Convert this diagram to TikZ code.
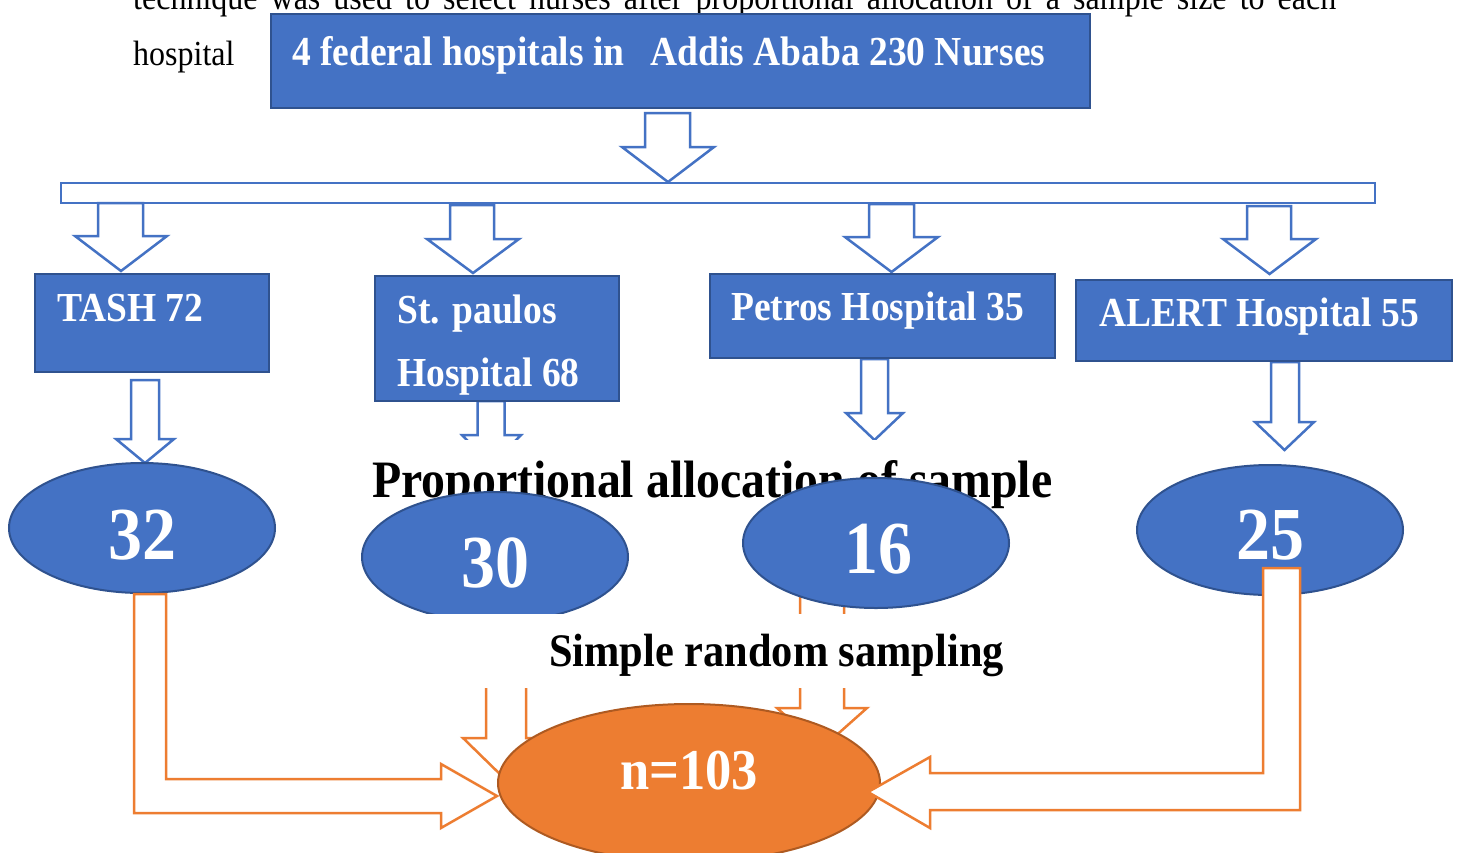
\documentclass[tikz,border=0pt]{standalone}
\usepackage{fontspec}
\setmainfont{Liberation Serif}
\usetikzlibrary{shapes.geometric}
\definecolor{bfill}{HTML}{4472C4}
\definecolor{bdark}{HTML}{2F528F}
\definecolor{ofill}{HTML}{ED7D31}
\definecolor{odark}{HTML}{AE5A21}
\newcommand\vstr[1]{\scalebox{1}[1.1]{#1}}
\newcommand\blkdown[8]{\draw[#1] (#2,#4) -- (#3,#4) -- (#3,#5) -- (#7,#5) -- ({(#6+#7)/2},#8) -- (#6,#5) -- (#2,#5) -- cycle;}
\tikzset{
  bluebox/.style={fill=bfill, draw=bdark, line width=2.5pt, inner sep=0pt, rectangle},
  blueell/.style={ellipse, fill=bfill, draw=bdark, line width=2pt, inner sep=0pt, minimum width=266pt, minimum height=130pt},
  blockblue/.style={fill=white, draw=bfill, line width=2.5pt, line join=miter},
  blockorange/.style={fill=white, draw=ofill, line width=2.5pt, line join=miter},
  boxtext/.style={text=white, font=\fontsize{37.5pt}{40pt}\selectfont\bfseries, anchor=base west, inner sep=0pt},
  numtext/.style={text=white, font=\fontsize{68pt}{70pt}\selectfont\bfseries, anchor=base, inner sep=0pt},
  bodytext/.style={text=black, font=\fontsize{32pt}{34pt}\selectfont, anchor=base west, inner sep=0pt},
  cover/.style={fill=white, draw=none, inner sep=0pt, rectangle}
}
\begin{document}
\begin{tikzpicture}[x=1pt,y=-1pt]
\useasboundingbox (0,0) rectangle (1459,852);
\fill[white] (0,0) rectangle (1459,852);

% running text of the page
\node[bodytext] (line1) at (133,9) {\vstr{\makebox[1203pt][s]{technique was used to select nurses after proportional allocation of a sample size to each}}};
\node[bodytext] (line2) at (133,65) {\vstr{hospital}};

% main box
\node[bluebox, minimum width=819pt, minimum height=94pt] (main) at (680.5,61) {};
\node[boxtext] (maintext) at (292,65) {\vstr{4 federal hospitals in\hspace{26pt}Addis Ababa 230 Nurses}};

% main arrow and bar
\blkdown{blockblue}{645}{690}{113}{147}{622}{714}{182}
\node[draw=bfill, fill=white, line width=2.5pt, rectangle, inner sep=0pt, minimum width=1314pt, minimum height=20pt] (bar) at (718,193) {};

% arrows from bar
\blkdown{blockblue}{98}{143}{203}{236}{75}{167}{271}
\blkdown{blockblue}{450}{494}{205}{239}{427}{519}{273}
\blkdown{blockblue}{869}{914}{204}{237}{845}{938}{272}
\blkdown{blockblue}{1247}{1291}{206}{239}{1223}{1316}{274}

% arrows from hospital boxes
\blkdown{blockblue}{131}{159}{380}{439}{116}{174}{463}
\blkdown{blockblue}{477.5}{504.5}{401}{435}{462}{521}{465}
\blkdown{blockblue}{861}{888}{359}{413}{846}{903}{440}
\blkdown{blockblue}{1271}{1299}{362}{422}{1255}{1314}{450}

% hospital boxes
\node[bluebox, minimum width=234pt, minimum height=98pt] (tash) at (152,323) {};
\node[boxtext] (tashtext) at (57,321) {\vstr{TASH 72}};
\node[bluebox, minimum width=244pt, minimum height=125pt] (paulos) at (497,338.5) {};
\node[boxtext] (paulostext1) at (397,323) {\vstr{St. paulos}};
\node[boxtext] (paulostext2) at (397,386) {\vstr{Hospital 68}};
\node[bluebox, minimum width=345pt, minimum height=84pt] (petros) at (882.5,316) {};
\node[boxtext] (petrostext) at (731,320) {\vstr{Petros Hospital 35}};
\node[bluebox, minimum width=376pt, minimum height=81pt] (alert) at (1264,320.5) {};
\node[boxtext] (alerttext) at (1099,326) {\vstr{ALERT Hospital 55}};

% proportional allocation label (white text box)
\node[cover, minimum width=705pt, minimum height=80pt] (propbox) at (712.5,480) {};
\node[text=black, font=\fontsize{47.8pt}{50pt}\selectfont\bfseries, anchor=base west, inner sep=0pt] (proptext) at (372,497) {\vstr{Proportional allocation of sample}};

% orange arrows under ellipses 30 and 16
\blkdown{blockorange}{486}{526}{600}{738}{463}{549}{780}
\blkdown{blockorange}{800}{844}{590}{708}{777}{867}{748}

% blue ellipses
\node[blueell] (e32) at (142,528) {};
\node[numtext] (t32) at (142,559) {\vstr{32}};
\node[blueell] (e30) at (495,557) {};
\node[numtext] (t30) at (495,587) {\vstr{30}};
\node[blueell] (e16) at (876,543) {};
\node[numtext] (t16) at (878,573) {\vstr{16}};
\node[blueell] (e25) at (1270,530) {};
\node[numtext] (t25) at (1270,559) {\vstr{25}};

% simple random sampling label (white text box)
\node[cover, minimum width=705pt, minimum height=74pt] (srsbox) at (707.5,651) {};
\node[text=black, font=\fontsize{42.4pt}{44pt}\selectfont\bfseries, anchor=base west, inner sep=0pt] (srstext) at (549,666) {\vstr{Simple random sampling}};

% final ellipse
\node[ellipse, fill=ofill, draw=odark, line width=2pt, inner sep=0pt, minimum width=382pt, minimum height=158pt] (final) at (689,783) {};
\node[text=white, font=\fontsize{52.5pt}{54pt}\selectfont\bfseries, anchor=base, inner sep=0pt] (finaltext) at (689,789) {\vstr{n=103}};

% bent orange arrows
\draw[blockorange] (134,594) -- (166,594) -- (166,779) -- (441,779) -- (441,764) -- (final.west |- 0,796) -- (441,828) -- (441,813) -- (134,813) -- cycle;
\draw[blockorange] (1263,568) -- (1300,568) -- (1300,810) -- (930,810) -- (930,828) -- (868,792) -- (930,757) -- (930,773) -- (1263,773) -- cycle;
\end{tikzpicture}
\end{document}
